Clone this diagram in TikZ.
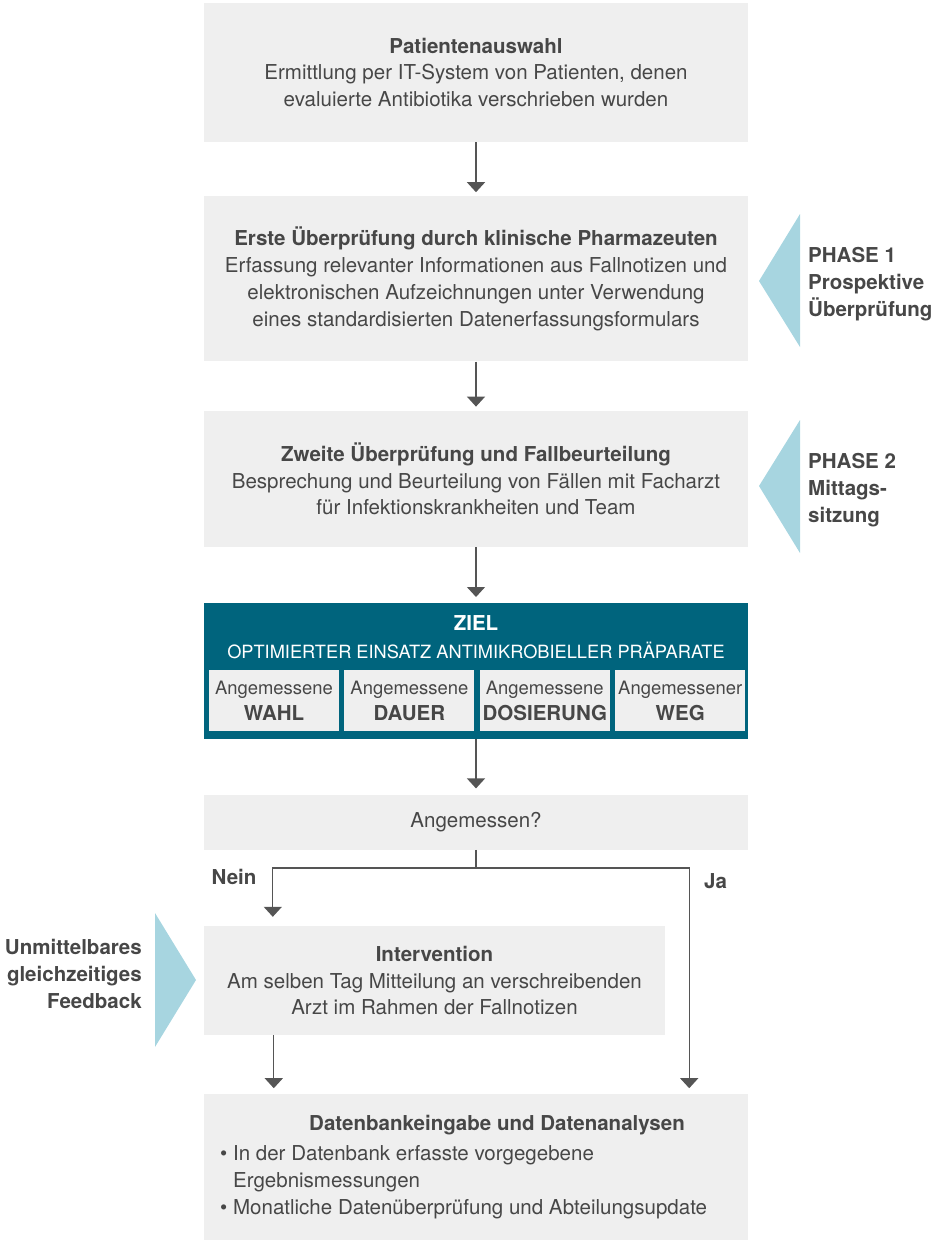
\documentclass[tikz,border=0pt]{standalone}
\usepackage{fontspec}
\setmainfont{TeX Gyre Heros}
\usepackage{tikz}
\usetikzlibrary{positioning, arrows.meta}
\definecolor{colCaja}{HTML}{EFEFEF}
\definecolor{colZiel}{HTML}{00647D}
\definecolor{colFase}{HTML}{A7D5E0}
\definecolor{colTexto}{HTML}{474747}
\definecolor{colLinea}{HTML}{555555}
\tikzset{
	x=1bp, y=-1bp, % Unidades en puntos, eje y hacia abajo
	>={Triangle[length=10bp, width=18bp]}, % Punta de las flechas
	every node/.style={text=colTexto, font=\fontsize{20.6}{27}\selectfont}, % Texto por defecto
	paso/.style={fill=colCaja, minimum width=544bp, inner sep=0pt, align=center}, % Cajas del flujo
	subm/.style={fill=colCaja, minimum width=130bp, minimum height=61bp, inner sep=0pt, align=center, font=\fontsize{18.5}{26}\selectfont}, % Cajas dentro de ZIEL
	etiq/.style={font=\fontsize{20.6}{27}\selectfont\bfseries}, % Textos en negrita
	flecha/.style={->, draw=colLinea, line width=1.3bp, shorten >=6bp}, % Conectores
	linea/.style={draw=colLinea, line width=1.3bp} % Conector sin punta
}

\begin{document}
\begin{tikzpicture}
	\useasboundingbox (0,0) rectangle (943,1240);
	\node[paso, minimum height=139bp] (sel) at (476,72.5) {\textbf{Patientenauswahl}\\Ermittlung per IT-System von Patienten, denen\\evaluierte Antibiotika verschrieben wurden};
	\node[paso, minimum height=165bp, below=54bp of sel] (erste) {\textbf{Erste Überprüfung durch klinische Pharmazeuten}\\Erfassung relevanter Informationen aus Fallnotizen und\\elektronischen Aufzeichnungen unter Verwendung\\eines standardisierten Datenerfassungsformulars};
	\node[paso, minimum height=136bp, below=49bp of erste] (zweite) {\textbf{Zweite Überprüfung und Fallbeurteilung}\\Besprechung und Beurteilung von Fällen mit Facharzt\\für Infektionskrankheiten und Team};
	\node[paso, fill=colZiel, minimum height=136bp, below=56bp of zweite] (ziel) {};
	\node[etiq, text=white] (zieltit) at (476,623) {ZIEL};
	\node[text=white, font=\fontsize{18.3}{24}\selectfont] (zielsub) at (476,650.5) {OPTIMIERTER EINSATZ ANTIMIKROBIELLER PRÄPARATE};
	\node[subm] (wahl) at (274,700.5) {Angemessene\\{\fontsize{20.6}{26}\selectfont\bfseries WAHL}};
	\node[subm, right=5bp of wahl] (dauer) {Angemessene\\{\fontsize{20.6}{26}\selectfont\bfseries DAUER}};
	\node[subm, right=5bp of dauer] (dosis) {Angemessene\\{\fontsize{20.6}{26}\selectfont\bfseries DOSIERUNG}};
	\node[subm, right=5bp of dosis] (weg) {Angemessener\\{\fontsize{20.6}{26}\selectfont\bfseries WEG}};
	\node[paso, minimum height=55bp, below=55bp of ziel] (ang) {Angemessen?};
	\node[paso, minimum width=461bp, minimum height=109bp, below=76bp of ang.south west, anchor=north west] (interv) {\textbf{Intervention}\\Am selben Tag Mitteilung an verschreibenden\\Arzt im Rahmen der Fallnotizen};
	\node[paso, minimum height=148bp, below=59bp of interv.south west, anchor=north west] (db) {};
	\node[etiq] (dbtit) at (497,1125) {Datenbankeingabe und Datenanalysen};
	\node[anchor=west, align=left, inner sep=0pt] (dbliste) at (220,1182.5) {• In der Datenbank erfasste vorgegebene\\\phantom{• }Ergebnismessungen\\• Monatliche Datenüberprüfung und Abteilungsupdate};
	\fill[colFase] (800,214) -- (800,347) -- (759,281) -- cycle;
	\fill[colFase] (800,420) -- (800,553) -- (759,486) -- cycle;
	\fill[colFase] (155,913) -- (155,1047) -- (196,980) -- cycle;
	\node[etiq, anchor=west, align=left, inner sep=0pt] (phase1) at (808,284) {PHASE 1\\Prospektive\\Überprüfung};
	\node[etiq, anchor=west, align=left, inner sep=0pt] (phase2) at (808,490) {PHASE 2\\Mittags-\\sitzung};
	\node[etiq, anchor=east, align=right, inner sep=0pt] (feedback) at (142,974) {Unmittelbares\\gleichzeitiges\\Feedback};
	\node[etiq] (nein) at (234,877) {Nein};
	\node[etiq] (ja) at (715.5,881) {Ja};
	\coordinate (split) at (476,868);
	\draw[flecha, shorten >=4bp] (sel) -- (erste);
	\draw[flecha, shorten >=4bp] (erste) -- (zweite);
	\draw[flecha] (zweite) -- (ziel);
	\draw[flecha] (ziel) -- (ang);
	\draw[linea] (ang) -- (split);
	\draw[flecha, shorten >=9bp] (split) -| ([xshift=69bp]interv.north west);
	\draw[flecha] (split) -| ([xshift=-59bp]db.north east);
	\draw[flecha] ([xshift=70bp]interv.south west) -- ([xshift=70bp]db.north west);
\end{tikzpicture}
\end{document}
